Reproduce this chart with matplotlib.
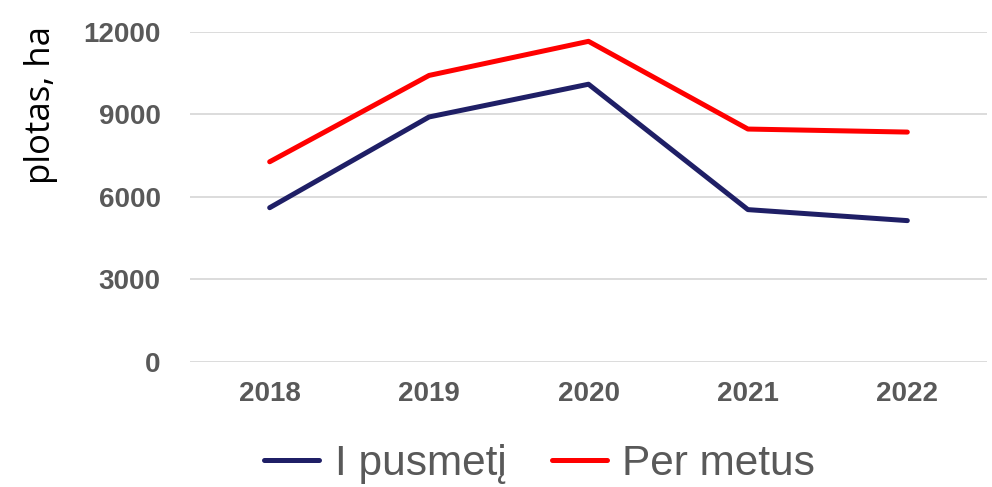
import matplotlib.pyplot as plt

years = ["2018", "2019", "2020", "2021", "2022"]
pusmeti = [5600, 8900, 10090, 5530, 5130]
per_metus = [7270, 10410, 11650, 8460, 8350]

plt.rcParams["font.family"] = ["Liberation Sans", "DejaVu Sans"]

fig = plt.figure(figsize=(9.92, 4.87), dpi=100)
ax = fig.add_axes([0.1915, 0.2573, 0.8035, 0.6776])

x = range(len(years))
ax.plot(x, pusmeti, color="#1f1f66", linewidth=3.6, solid_capstyle="round",
        solid_joinstyle="round", label="I pusmetį", clip_on=False)
ax.plot(x, per_metus, color="#ff0000", linewidth=3.6, solid_capstyle="round",
        solid_joinstyle="round", label="Per metus", clip_on=False)

ax.set_xlim(-0.5, len(years) - 0.5)
ax.set_ylim(0, 12000)
ax.set_yticks([0, 3000, 6000, 9000, 12000])
ax.set_xticks(list(x))
ax.set_xticklabels(years)

ax.grid(axis="y", color="#d9d9d9", linewidth=1.3)
ax.set_axisbelow(True)
for s in ax.spines.values():
    s.set_visible(False)
ax.tick_params(length=0, labelsize=20, labelcolor="#595959")
for lbl in ax.get_xticklabels() + ax.get_yticklabels():
    lbl.set_fontweight("bold")
ax.tick_params(axis="x", pad=14)
ax.tick_params(axis="y", pad=21)

# axis title sits near the top, like the original
fig.text(41 / 992, 1 - 105 / 487, "plotas, ha", rotation=90, ha="center",
         va="center", fontsize=25, color="black", family=["Open Sans", "DejaVu Sans"])

fig.legend(loc="center", bbox_to_anchor=(0.544, 0.047), ncol=2, frameon=False,
           fontsize=30.5, labelcolor="#595959", handlelength=1.3, handletextpad=0.37,
           columnspacing=1.07)

fig.savefig("out.png", dpi=100)
